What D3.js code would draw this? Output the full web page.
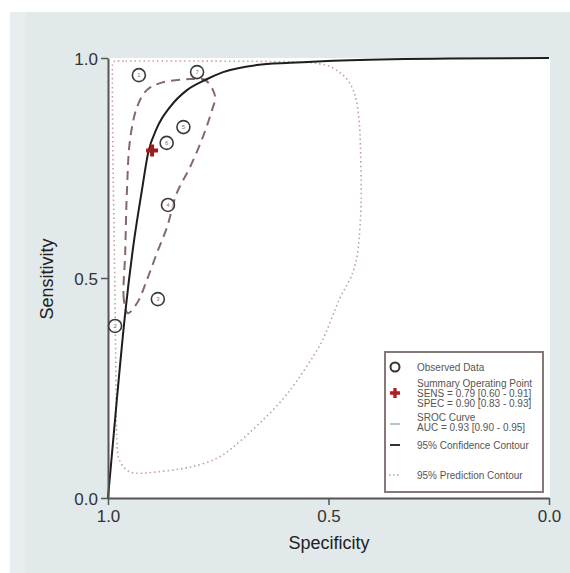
<!DOCTYPE html>
<html lang="en">
<head>
<meta charset="UTF-8">
<title>SROC Curve | D3</title>
<style>
  body { margin: 0; background: #fff; }
  text { font-family: "Liberation Sans", Arial, sans-serif; }
</style>
</head>
<body>
<div id="container"></div>
<script src="https://d3js.org/d3.v7.min.js"></script>
<script>
// Observed studies: specificity, sensitivity, label
var studySpec = [0.930, 0.798, 0.829, 0.867, 0.864, 0.887, 0.984];
var studySens = [0.961, 0.968, 0.843, 0.807, 0.666, 0.452, 0.391];
var studyLabels = ["1", "7", "5", "6", "4", "3", "2"];

// Summary operating point
var summarySpec = 0.90;
var summarySens = 0.79;

// SROC curve
var srocSpec = [1.0, 0.980, 0.961, 0.943, 0.923, 0.909, 0.889, 0.859, 0.821, 0.780, 0.739, 0.662, 0.587, 0.451, 0.224, 0.0];
var srocSens = [0.0, 0.223, 0.420, 0.570, 0.700, 0.784, 0.841, 0.889, 0.927, 0.950, 0.968, 0.984, 0.989, 0.995, 0.999, 1.0];

// 95% confidence contour
var confSpec = [0.955, 0.964, 0.961, 0.957, 0.950, 0.934, 0.912, 0.882, 0.814, 0.780, 0.762, 0.757, 0.764, 0.785, 0.814, 0.844, 0.866, 0.889, 0.912, 0.934];
var confSens = [0.420, 0.450, 0.557, 0.700, 0.814, 0.889, 0.927, 0.943, 0.952, 0.950, 0.927, 0.909, 0.882, 0.820, 0.752, 0.693, 0.616, 0.557, 0.495, 0.443];

// 95% prediction contour
var predSpec = [0.987, 0.960, 0.791, 0.535, 0.467, 0.440, 0.429, 0.426, 0.433, 0.447, 0.476, 0.519, 0.587, 0.649, 0.739, 0.814, 0.912, 0.950, 0.971, 0.980, 0.984, 0.989, 0.990];
var predSens = [0.991, 0.993, 0.993, 0.989, 0.961, 0.916, 0.836, 0.677, 0.564, 0.507, 0.450, 0.348, 0.245, 0.177, 0.098, 0.070, 0.057, 0.059, 0.080, 0.132, 0.450, 0.791, 0.960];

var tickValues = [0, 0.5, 1];

var legendLabels = [
    ["Observed Data"],
    ["Summary Operating Point", "SENS = 0.79 [0.60 - 0.91]", "SPEC = 0.90 [0.83 - 0.93]"],
    ["SROC Curve", "AUC = 0.93 [0.90 - 0.95]"],
    ["95% Confidence Contour"],
    ["95% Prediction Contour"]
];

var svg = d3.select("#container")
    .append("svg")
    .attr("width", 570)
    .attr("height", 573);

// grey panel behind the chart
svg.append("rect")
    .attr("x", 10).attr("y", 12)
    .attr("width", 560).attr("height", 561)
    .attr("fill", "#e2e9eb");
svg.append("rect")
    .attr("x", 10).attr("y", 12)
    .attr("width", 16).attr("height", 561)
    .attr("fill", "#e7edee");

var x = d3.scaleLinear().domain([1, 0]).range([108, 549]);
var y = d3.scaleLinear().domain([0, 1]).range([498, 58]);

// white plotting area
svg.append("rect")
    .attr("x", x(1)).attr("y", y(1))
    .attr("width", x(0) - x(1) + 1).attr("height", y(0) - y(1))
    .attr("fill", "#fff");

function toPoints(sx, sy) {
    return sx.map(function(d, i) { return [x(d), y(sy[i])]; });
}

// prediction contour (dotted)
svg.append("path")
    .attr("d", d3.line().curve(d3.curveCardinalClosed.tension(0.2))(toPoints(predSpec, predSens)))
    .attr("fill", "none")
    .attr("stroke", "#c49f9c")
    .attr("stroke-width", 1.6)
    .attr("stroke-dasharray", "1.5,3");

// confidence contour (dashed)
svg.append("path")
    .attr("d", d3.line().curve(d3.curveCatmullRomClosed)(toPoints(confSpec, confSens)))
    .attr("fill", "none")
    .attr("stroke", "#866868")
    .attr("stroke-width", 2)
    .attr("stroke-dasharray", "9,6");

// SROC curve
svg.append("path")
    .attr("d", d3.line().curve(d3.curveMonotoneX)(toPoints(srocSpec, srocSens)))
    .attr("fill", "none")
    .attr("stroke", "#1e1e1e")
    .attr("stroke-width", 2);

// axes
var yAxis = svg.append("g")
    .attr("transform", "translate(" + x(1) + ",0)")
    .call(d3.axisLeft(y).tickValues(tickValues).tickFormat(d3.format(".1f")).tickSize(7).tickSizeOuter(0));
var xAxis = svg.append("g")
    .attr("transform", "translate(0," + y(0) + ")")
    .call(d3.axisBottom(x).tickValues(tickValues).tickFormat(d3.format(".1f")).tickSize(7).tickSizeOuter(0));

[xAxis, yAxis].forEach(function(a) {
    a.select(".domain").attr("stroke", "#555").attr("stroke-width", 2);
    a.selectAll(".tick line").attr("stroke", "#555").attr("stroke-width", 1.5);
    a.selectAll(".tick text")
        .attr("fill", "#333")
        .style("font-size", "17px")
        .style("font-family", "'Liberation Sans', Arial, sans-serif");
});
yAxis.selectAll(".tick text").attr("x", -10).attr("dy", "0.36em");
xAxis.selectAll(".tick text").attr("y", 12);

// axis titles
svg.append("text")
    .attr("x", 329).attr("y", 549)
    .attr("text-anchor", "middle")
    .attr("fill", "#222")
    .style("font-size", "18px")
    .text("Specificity");
svg.append("text")
    .attr("transform", "translate(53,279) rotate(-90)")
    .attr("text-anchor", "middle")
    .attr("fill", "#222")
    .style("font-size", "18px")
    .text("Sensitivity");

// observed studies
var studies = svg.append("g").selectAll("g")
    .data(studySpec.map(function(d, i) { return { spec: d, sens: studySens[i], label: studyLabels[i] }; }))
    .enter().append("g")
    .attr("transform", function(d) { return "translate(" + x(d.spec) + "," + y(d.sens) + ")"; });
studies.append("circle")
    .attr("r", 6.5)
    .attr("fill", "rgba(255,255,255,0.6)")
    .attr("stroke", "#3a3a3a")
    .attr("stroke-width", 1.6);
studies.append("text")
    .attr("text-anchor", "middle")
    .attr("dy", "0.35em")
    .attr("fill", "#777")
    .style("font-size", "6px")
    .text(function(d) { return d.label; });

// summary point
var crossSymbol = d3.symbol().type(d3.symbolCross).size(80);
svg.append("path")
    .attr("d", crossSymbol())
    .attr("transform", "translate(" + x(summarySpec) + "," + y(summarySens) + ")")
    .attr("fill", "#9e1c1c");

// legend
var legend = svg.append("g");
legend.append("rect")
    .attr("x", 385).attr("y", 352)
    .attr("width", 158).attr("height", 140)
    .attr("fill", "#fff")
    .attr("stroke", "#857a78")
    .attr("stroke-width", 2);

var symX = 395, textX = 417;
var rowY = [367, 393, 422, 445, 475];

legend.append("circle")
    .attr("cx", symX).attr("cy", rowY[0]).attr("r", 4.5)
    .attr("fill", "none").attr("stroke", "#333").attr("stroke-width", 2);
legend.append("path")
    .attr("d", d3.symbol().type(d3.symbolCross).size(55)())
    .attr("transform", "translate(" + symX + "," + rowY[1] + ")")
    .attr("fill", "#b01e1e");
legend.append("line")
    .attr("x1", symX - 5).attr("x2", symX + 5).attr("y1", rowY[2] + 2).attr("y2", rowY[2] + 2)
    .attr("stroke", "#aab").attr("stroke-width", 1.5);
legend.append("line")
    .attr("x1", symX - 5).attr("x2", symX + 5).attr("y1", rowY[3]).attr("y2", rowY[3])
    .attr("stroke", "#333").attr("stroke-width", 2);
legend.append("line")
    .attr("x1", symX - 6).attr("x2", symX + 6).attr("y1", rowY[4]).attr("y2", rowY[4])
    .attr("stroke", "#b9a3a3").attr("stroke-width", 1.5).attr("stroke-dasharray", "1.5,2.5");

legendLabels.forEach(function(lines, i) {
    var startY = rowY[i] - (lines.length - 1) * 5;
    lines.forEach(function(t, j) {
        legend.append("text")
            .attr("x", textX)
            .attr("y", startY + j * 10)
            .attr("dy", "0.35em")
            .attr("fill", "#555")
            .style("font-size", "10px")
            .text(t);
    });
});
</script>
</body>
</html>
